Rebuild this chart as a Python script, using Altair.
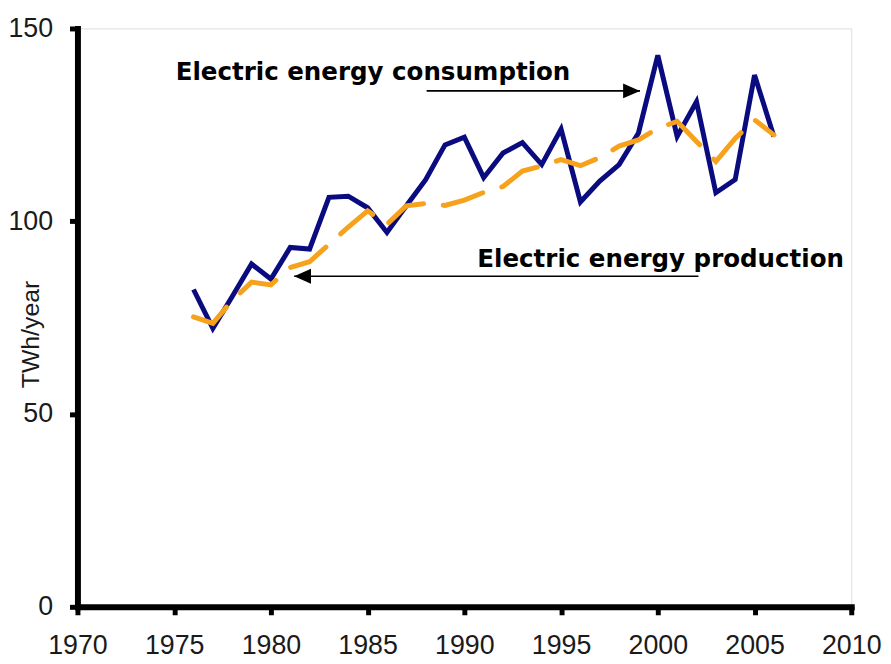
import altair as alt
import pandas as pd

years = list(range(1976, 2007))
consumption = [82.3, 72.2, 80.5, 88.9, 85.0, 93.2, 92.8, 106.2, 106.5, 103.5,
               97.1, 104.0, 110.8, 119.8, 121.8, 111.3, 117.7, 120.4, 114.7, 123.9,
               105.0, 110.4, 114.7, 122.9, 143.0, 122.0, 131.0, 107.4, 110.8, 137.9,
               122.0]
production = [75.2, 73.5, 79.5, 84.2, 83.5, 88.0, 89.5, 94.0, 98.5, 102.7,
              99.2, 104.0, 104.6, 104.1, 105.5, 107.5, 109.0, 113.0, 114.3, 116.0,
              114.4, 116.5, 119.5, 121.1, 124.1, 125.9, 120.7, 115.5, 121.5, 126.3,
              122.4]

x_ticks = [1970, 1975, 1980, 1985, 1990, 1995, 2000, 2005, 2010]
y_ticks = [0, 50, 100, 150]

# annotations (data units)
label_text = ["Electric energy consumption", "Electric energy production"]
label_x = [1975.08, 1990.67]
label_y = [136.6, 88.2]
arrow_start = [1988.05, 2002.1]
arrow_tip = [1999.08, 1981.2]
arrow_y = [133.8, 85.74]

df = pd.DataFrame({"year": years, "consumption": consumption, "production": production})
labels = pd.DataFrame({"text": label_text, "x": label_x, "y": label_y})
shafts = pd.DataFrame({"x": arrow_start, "x2": arrow_tip, "y": arrow_y})
tip_right = pd.DataFrame({"x": [arrow_tip[0]], "y": [arrow_y[0]]})
tip_left = pd.DataFrame({"x": [arrow_tip[1]], "y": [arrow_y[1]]})

tick_font = "Liberation Sans, Arial, sans-serif"

xscale = alt.Scale(domain=[1970, 2010], nice=False, zero=False)
yscale = alt.Scale(domain=[0, 150], nice=False)

xaxis = alt.Axis(values=x_ticks, format="d", title=None, grid=False,
                 domainColor="black", domainWidth=6, domainCap="square",
                 tickColor="black", tickWidth=5, tickSize=8,
                 labelFont=tick_font, labelFontSize=27, labelColor="#1a1a1a",
                 labelPadding=18, labelFlush=False)
yaxis = alt.Axis(values=y_ticks, title="TWh/year", grid=False,
                 domainColor="black", domainWidth=6, domainCap="square",
                 tickColor="black", tickWidth=5, tickSize=8,
                 labelFont=tick_font, labelFontSize=27, labelColor="#1a1a1a",
                 labelPadding=17,
                 titleFont=tick_font, titleFontSize=25,
                 titleFontWeight="normal", titleColor="#1a1a1a",
                 titleX=-47, titleY=308, titleAlign="center", titleBaseline="middle",
                 titleAngle=270)

base = alt.Chart(df)

cons = base.mark_line(color="#0b0b80", strokeWidth=5, strokeJoin="miter").encode(
    x=alt.X("year:Q", scale=xscale, axis=xaxis),
    y=alt.Y("consumption:Q", scale=yscale, axis=yaxis),
)
prod = base.mark_line(color="#f7a21c", strokeWidth=5, strokeDash=[42, 20],
                      strokeCap="round").encode(
    x=alt.X("year:Q", scale=xscale),
    y=alt.Y("production:Q", scale=yscale),
)

shaft = alt.Chart(shafts).mark_rule(color="black", strokeWidth=1.6).encode(
    x=alt.X("x:Q", scale=xscale), x2="x2:Q", y=alt.Y("y:Q", scale=yscale)
)
head_r = alt.Chart(tip_right).mark_point(
    shape="M0,0L-1,-0.44L-1,0.44Z", filled=True, color="black", opacity=1, size=1156
).encode(x=alt.X("x:Q", scale=xscale), y=alt.Y("y:Q", scale=yscale))
head_l = alt.Chart(tip_left).mark_point(
    shape="M0,0L1,-0.44L1,0.44Z", filled=True, color="black", opacity=1, size=1156
).encode(x=alt.X("x:Q", scale=xscale), y=alt.Y("y:Q", scale=yscale))

txt = alt.Chart(labels).mark_text(
    align="left", baseline="alphabetic", font="DejaVu Sans", fontWeight="bold",
    fontSize=24.7, color="black"
).encode(x=alt.X("x:Q", scale=xscale), y=alt.Y("y:Q", scale=yscale), text="text:N")

chart = alt.layer(cons, prod, shaft, head_r, head_l, txt).properties(
    width=780, height=583,
    autosize=alt.AutoSizeParams(type="none"),
    padding={"left": 70, "top": 18, "right": 32, "bottom": 53},
).configure_view(stroke=None).configure(background="white")

chart.save("out.html", embed_options={"renderer": "svg", "actions": False})
